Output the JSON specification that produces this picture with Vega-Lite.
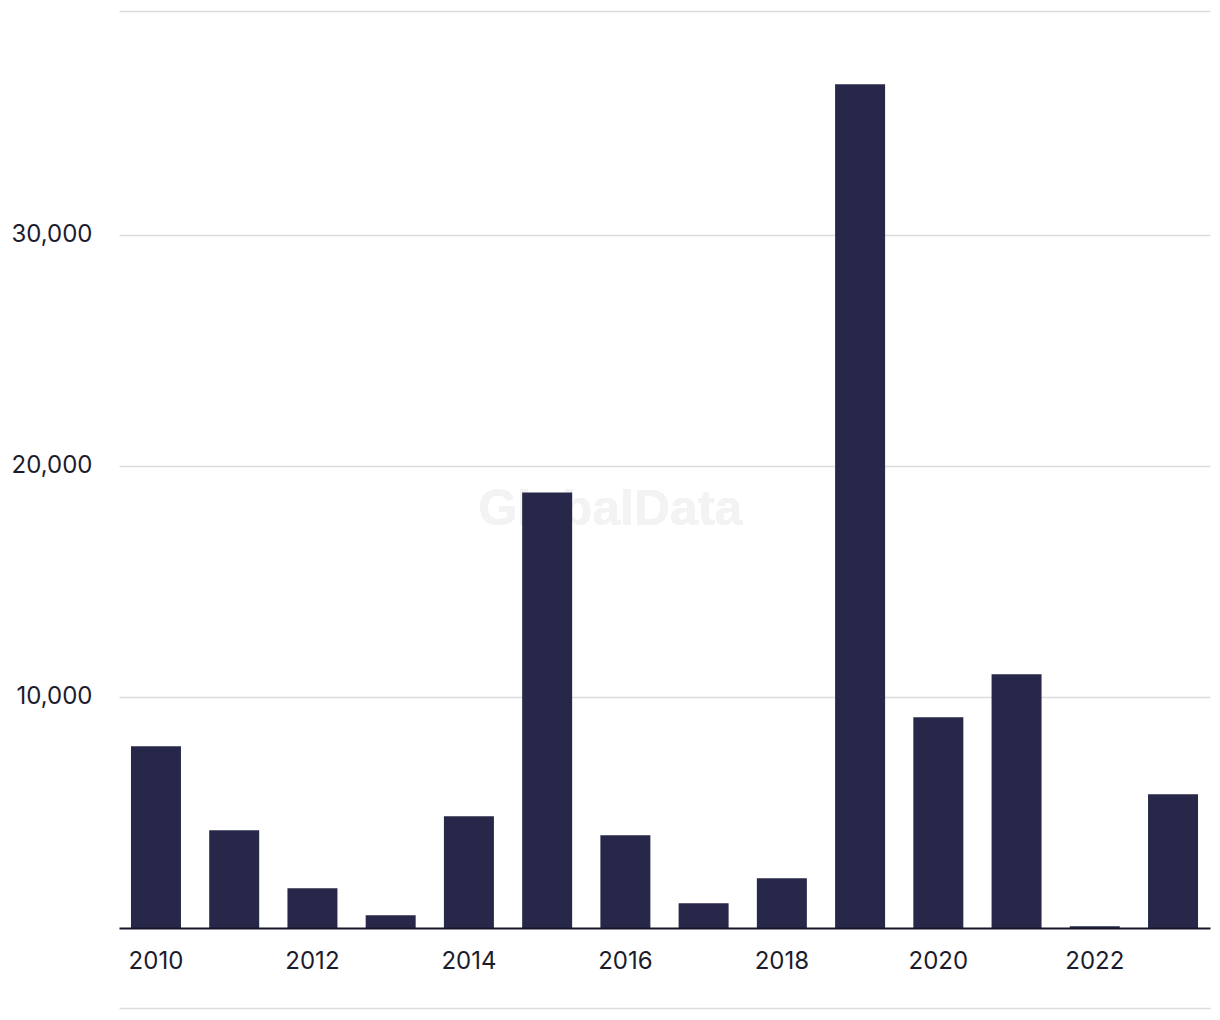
{
  "$schema": "https://vega.github.io/schema/vega-lite/v6.json",
  "width": 1091,
  "height": 917,
  "autosize": "none",
  "padding": {"left": 119, "top": 11, "right": 10, "bottom": 92},
  "background": "white",
  "config": {"view": {"stroke": null}, "font": "Inter"},
  "data": {
    "values": [
      {"year": 2010, "value": 7866},
      {"year": 2011, "value": 4229},
      {"year": 2012, "value": 1719},
      {"year": 2013, "value": 550},
      {"year": 2014, "value": 4835},
      {"year": 2015, "value": 18848},
      {"year": 2016, "value": 4013},
      {"year": 2017, "value": 1069},
      {"year": 2018, "value": 2152},
      {"year": 2019, "value": 36524},
      {"year": 2020, "value": 9121},
      {"year": 2021, "value": 10983},
      {"year": 2022, "value": 74},
      {"year": 2023, "value": 5788}
    ]
  },
  "layer": [
    {
      "mark": {"type": "text", "text": "GlobalData", "font": "Liberation Sans", "fontWeight": "bold", "fontSize": 50, "fill": "#f3f3f4"},
      "encoding": {
        "x": {"datum": 2016, "type": "ordinal", "bandPosition": 0.2, "axis": null},
        "y": {
          "datum": 18080,
          "type": "quantitative",
          "scale": {"domain": [0, 39690], "nice": false},
          "axis": {
            "title": null,
            "values": [10000, 20000, 30000],
            "format": ",d",
            "labelFont": "Inter",
            "labelFontSize": 24,
            "labelColor": "#1c1c2c",
            "ticks": false,
            "domain": false,
            "labelPadding": 27,
            "grid": true,
            "gridColor": "#dcdcdc",
            "gridWidth": 1.5
          }
        }
      }
    },
    {
      "mark": {"type": "bar", "color": "#272849"},
      "encoding": {
        "x": {
          "field": "year",
          "type": "ordinal",
          "scale": {"paddingInner": 0.361, "paddingOuter": 0.153},
          "axis": {
            "orient": "bottom",
            "title": null,
            "values": [2010, 2012, 2014, 2016, 2018, 2020, 2022],
            "labelAngle": 0,
            "labelFont": "Inter",
            "labelFontSize": 24,
            "labelColor": "#1c1c2c",
            "ticks": false,
            "labelPadding": 21,
            "domainColor": "#16162a",
            "domainWidth": 2,
            "zindex": 1,
            "grid": false
          }
        },
        "y": {
          "field": "value",
          "type": "quantitative",
          "scale": {"domain": [0, 39690], "nice": false},
          "axis": {
            "title": null,
            "values": [10000, 20000, 30000],
            "format": ",d",
            "labelFont": "Inter",
            "labelFontSize": 24,
            "labelColor": "#1c1c2c",
            "ticks": false,
            "domain": false,
            "labelPadding": 27,
            "grid": true,
            "gridColor": "#dcdcdc",
            "gridWidth": 1.5
          }
        }
      }
    },
    {
      "mark": {"type": "tick", "opacity": 0},
      "encoding": {
        "x": {
          "field": "year",
          "type": "ordinal",
          "axis": {"orient": "top", "title": null, "labels": false, "ticks": false, "grid": false, "domainColor": "#dcdcdc", "domainWidth": 1.5}
        }
      }
    },
    {
      "mark": {"type": "tick", "opacity": 0},
      "encoding": {
        "x": {
          "field": "year",
          "type": "ordinal",
          "axis": {"orient": "bottom", "offset": 80, "title": null, "labels": false, "ticks": false, "grid": false, "domainColor": "#dcdcdc", "domainWidth": 1.5}
        }
      }
    }
  ],
  "resolve": {"axis": {"x": "independent"}}
}
